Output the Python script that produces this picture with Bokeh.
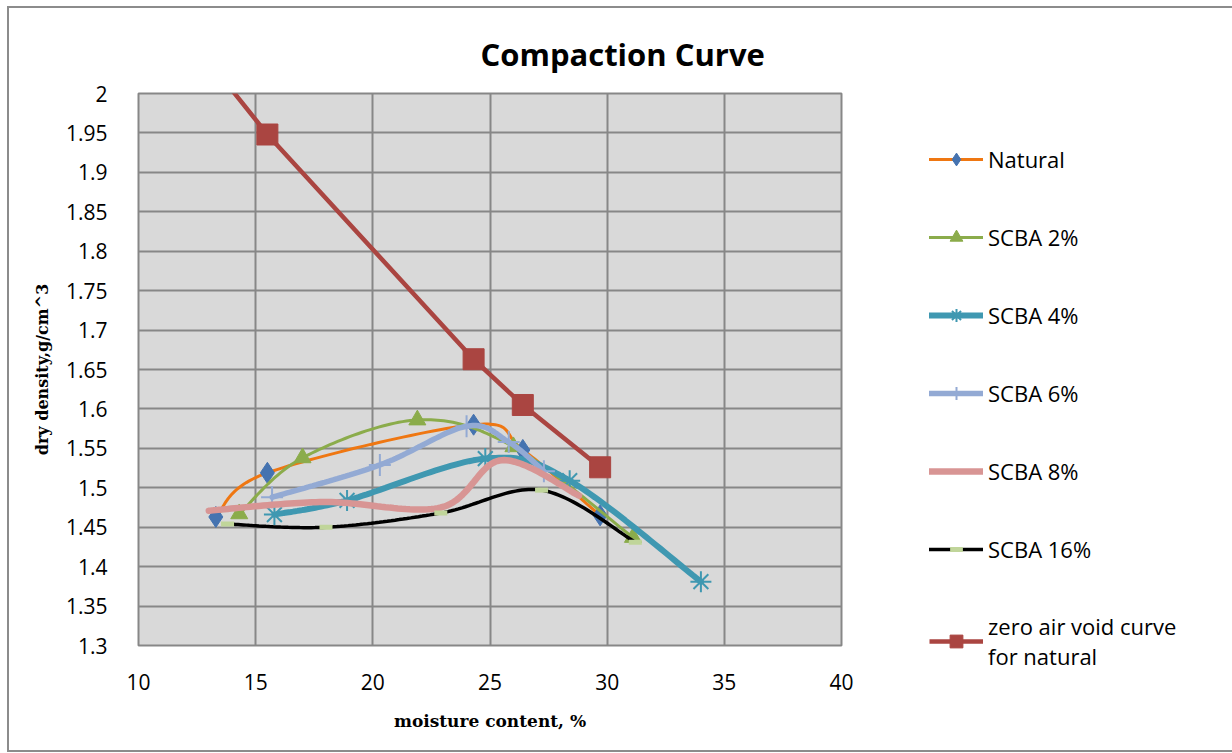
from bokeh.plotting import figure
from bokeh.models import Legend, LegendItem, Range1d, FixedTicker
from bokeh.embed import file_html
from bokeh.resources import INLINE

# Moisture content (%) and dry density (g/cm^3) for each mix
natural_w = [13.3, 15.5, 24.3, 26.4, 29.7]
natural_d = [1.463, 1.519, 1.580, 1.548, 1.465]

scba2_w = [14.3, 17.0, 21.9, 26.0, 31.1]
scba2_d = [1.467, 1.538, 1.586, 1.552, 1.437]

scba4_w = [15.8, 18.9, 24.8, 28.4, 34.0]
scba4_d = [1.466, 1.484, 1.537, 1.509, 1.381]

scba6_w = [15.7, 20.3, 24.0, 25.8, 27.3]
scba6_d = [1.488, 1.529, 1.578, 1.558, 1.521]

scba8_w = [13.0, 17.9, 22.9, 25.5, 28.8]
scba8_d = [1.471, 1.482, 1.475, 1.535, 1.490]

scba16_w = [13.8, 18.0, 22.9, 27.2, 31.2]
scba16_d = [1.454, 1.450, 1.468, 1.497, 1.431]

zav_w = [13.3, 15.5, 24.3, 26.4, 29.7]
zav_d = [2.030, 1.948, 1.663, 1.605, 1.526]

x_ticks = [10, 15, 20, 25, 30, 35, 40]
y_ticks = [1.3, 1.35, 1.4, 1.45, 1.5, 1.55, 1.6, 1.65, 1.7, 1.75, 1.8, 1.85, 1.9, 1.95, 2.0]
y_tick_labels = ["1.3", "1.35", "1.4", "1.45", "1.5", "1.55", "1.6", "1.65", "1.7",
                 "1.75", "1.8", "1.85", "1.9", "1.95", "2"]


def smooth(xs, ys, n=30):
    """Smoothed path through the points (Catmull-Rom as cubic Bezier)."""
    pts = list(zip(xs, ys))
    m = len(pts)
    out_x, out_y = [], []
    for i in range(m - 1):
        p0 = pts[i - 1] if i > 0 else pts[i]
        p1 = pts[i]
        p2 = pts[i + 1]
        p3 = pts[i + 2] if i + 2 < m else pts[i + 1]
        c1 = (p1[0] + (p2[0] - p0[0]) / 6, p1[1] + (p2[1] - p0[1]) / 6)
        c2 = (p2[0] - (p3[0] - p1[0]) / 6, p2[1] - (p3[1] - p1[1]) / 6)
        steps = n + 1 if i == m - 2 else n
        for k in range(steps):
            t = k / n
            a = (1 - t) ** 3
            b = 3 * (1 - t) ** 2 * t
            c = 3 * (1 - t) * t ** 2
            d = t ** 3
            out_x.append(a * p1[0] + b * c1[0] + c * c2[0] + d * p2[0])
            out_y.append(a * p1[1] + b * c1[1] + c * c2[1] + d * p2[1])
    return out_x, out_y


GRID = "#878787"
FONT = "Open Sans"

p = figure(frame_width=703, frame_height=552,
           x_range=Range1d(10, 40), y_range=Range1d(1.3, 2.0),
           output_backend="svg", toolbar_location=None,
           title="Compaction Curve",
           min_border_left=129, min_border_right=0,
           min_border_top=85, min_border_bottom=105,
           background_fill_color="#d9d9d9", border_fill_color="white",
           outline_line_color=GRID, outline_line_width=2,
           styles={"border": "2px solid #8c8c8c", "margin-left": "7px", "margin-top": "6px"})

p.title.text_font = FONT
p.title.text_font_size = "31px"
p.title.text_font_style = "bold"
p.title.text_color = "black"
p.title.align = "left"
p.title.offset = 342
p.title.standoff = 38

for ax in (p.xaxis, p.yaxis):
    ax.axis_line_color = None
    ax.major_tick_line_color = None
    ax.minor_tick_line_color = None
    ax.major_label_text_font = FONT
    ax.major_label_text_font_size = "21px"
    ax.major_label_text_color = "black"
    ax.axis_label_text_font = "DejaVu Serif"
    ax.axis_label_text_font_style = "bold"
    ax.axis_label_text_color = "black"

p.xaxis.ticker = FixedTicker(ticks=x_ticks)
p.yaxis.ticker = FixedTicker(ticks=y_ticks)
p.yaxis.major_label_overrides = {t: s for t, s in zip(y_ticks, y_tick_labels)}
p.xaxis.major_label_standoff = 22
p.yaxis.major_label_standoff = 25
p.xaxis.axis_label = "moisture content, %"
p.yaxis.axis_label = "dry density,g/cm^3"
p.xaxis.axis_label_text_font_size = "17px"
p.yaxis.axis_label_text_font_size = "16px"
p.xaxis.axis_label_standoff = 18
p.yaxis.axis_label_standoff = 11

p.xgrid.grid_line_color = GRID
p.ygrid.grid_line_color = GRID
p.xgrid.grid_line_width = 2
p.ygrid.grid_line_width = 2

# zero air void curve: straight segments
zav_line = p.line(zav_w, zav_d, line_color="#aa4541", line_width=4.5)
zav_pts = p.scatter(zav_w, zav_d, marker="square", size=21,
                    fill_color="#aa4541", line_color="#aa4541")

series = [
    ("Natural", natural_w, natural_d, "#ef7712", 3, "diamond", 21, "#4573b0", "#4573b0", 1),
    ("SCBA 2%", scba2_w, scba2_d, "#8bac4b", 3, "triangle", 17, "#8bac4b", "#8bac4b", 1),
    ("SCBA 4%", scba4_w, scba4_d, "#3f98b1", 6, "asterisk", 21, None, "#3f98b1", 2),
    ("SCBA 6%", scba6_w, scba6_d, "#93aad4", 5.5, "cross", 22, None, "#93aad4", 2),
    ("SCBA 8%", scba8_w, scba8_d, "#d89594", 6.5, None, 0, None, None, 0),
    ("SCBA 16%", scba16_w, scba16_d, "black", 3.5, "dash", 13, None, "#c0d59a", 5),
]

rend = {}
for name, xs, ys, col, lw, mk, ms, mfill, mline, mlw in series:
    sx, sy = smooth(xs, ys)
    ln = p.line(sx, sy, line_color=col, line_width=lw, line_cap="round")
    rs = [ln]
    if mk is not None:
        sc = p.scatter(xs, ys, marker=mk, size=ms, fill_color=mfill,
                       line_color=mline, line_width=mlw)
        rs.append(sc)
    rend[name] = rs

items = [LegendItem(label=name, renderers=rend[name]) for name, *_ in series]
items.append(LegendItem(label="zero air void curve\nfor natural",
                        renderers=[zav_line, zav_pts]))

legend = Legend(items=items, location=(88, -26),
                glyph_width=54, glyph_height=32, label_height=32,
                spacing=46, label_standoff=5, padding=0, margin=0,
                border_line_color=None, background_fill_alpha=0,
                label_text_font=FONT, label_text_font_size="22px",
                label_text_color="black")
p.add_layout(legend, "right")

open("out.html", "w").write(file_html(p, INLINE))
